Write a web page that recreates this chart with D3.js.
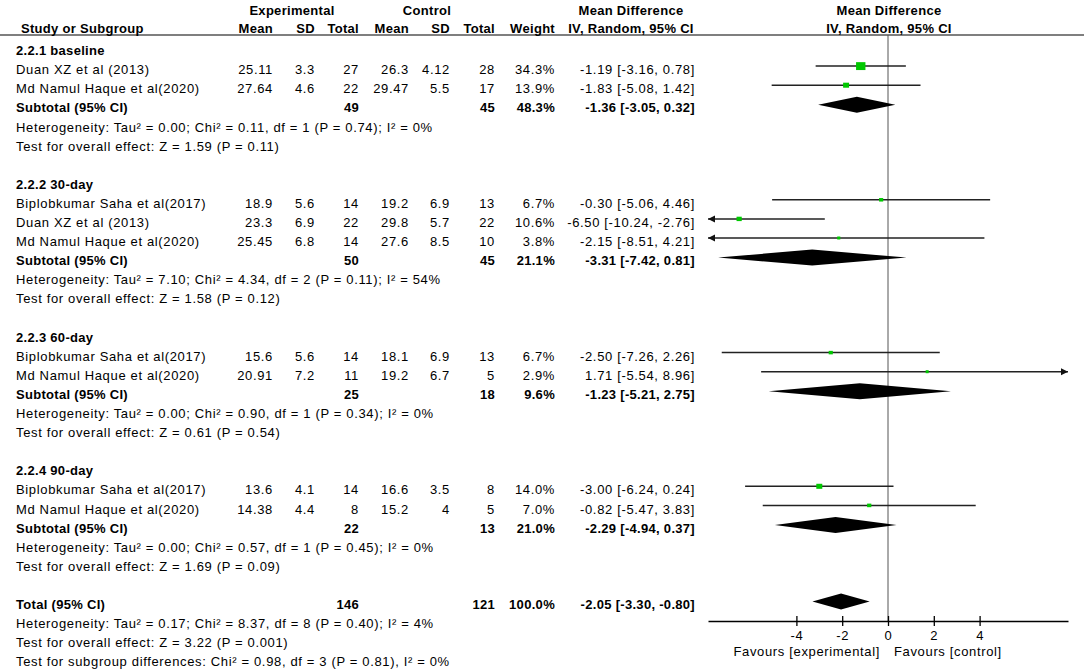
<!DOCTYPE html>
<html>
<head>
<meta charset="utf-8">
<script src="https://cdn.jsdelivr.net/npm/d3@7"></script>
<style>
    body { margin: 0; background: #fff; }
    text { font-family: "Liberation Sans", Arial, sans-serif; font-size: 13px; fill: #000; }
    .reg { letter-spacing: 0.65px; }
    .bold { font-weight: bold; letter-spacing: 0.3px; }
</style>
</head>
<body>
<div class="forest_plot"></div>
<script>

// subgroups
var groupNames = ["2.2.1 baseline", "2.2.2 30-day", "2.2.3 60-day", "2.2.4 90-day"];

// studies (one entry per study row)
var studyGroup = [0, 0, 1, 1, 1, 2, 2, 3, 3];
var studyNames = ["Duan XZ et al (2013)", "Md Namul Haque et al(2020)",
    "Biplobkumar Saha et al(2017)", "Duan XZ et al (2013)", "Md Namul Haque et al(2020)",
    "Biplobkumar Saha et al(2017)", "Md Namul Haque et al(2020)",
    "Biplobkumar Saha et al(2017)", "Md Namul Haque et al(2020)"];
var expMean = [25.11, 27.64, 18.9, 23.3, 25.45, 15.6, 20.91, 13.6, 14.38];
var expSD = [3.3, 4.6, 5.6, 6.9, 6.8, 5.6, 7.2, 4.1, 4.4];
var expTotal = [27, 22, 14, 22, 14, 14, 11, 14, 8];
var ctlMean = [26.3, 29.47, 19.2, 29.8, 27.6, 18.1, 19.2, 16.6, 15.2];
var ctlSD = [4.12, 5.5, 6.9, 5.7, 8.5, 6.9, 6.7, 3.5, 4];
var ctlTotal = [28, 17, 13, 22, 10, 13, 5, 8, 5];
var studyWeight = [34.3, 13.9, 6.7, 10.6, 3.8, 6.7, 2.9, 14.0, 7.0];
var studyMD = [-1.19, -1.83, -0.30, -6.50, -2.15, -2.50, 1.71, -3.00, -0.82];
var studyLo = [-3.16, -5.08, -5.06, -10.24, -8.51, -7.26, -5.54, -6.24, -5.47];
var studyHi = [0.78, 1.42, 4.46, -2.76, 4.21, 2.26, 8.96, 0.24, 3.83];

// subtotals
var subExpTotal = [49, 50, 25, 22];
var subCtlTotal = [45, 45, 18, 13];
var subWeight = [48.3, 21.1, 9.6, 21.0];
var subMD = [-1.36, -3.31, -1.23, -2.29];
var subLo = [-3.05, -7.42, -5.21, -4.94];
var subHi = [0.32, 0.81, 2.75, 0.37];
var subHet = [
    "Heterogeneity: Tau\u00b2 = 0.00; Chi\u00b2 = 0.11, df = 1 (P = 0.74); I\u00b2 = 0%",
    "Heterogeneity: Tau\u00b2 = 7.10; Chi\u00b2 = 4.34, df = 2 (P = 0.11); I\u00b2 = 54%",
    "Heterogeneity: Tau\u00b2 = 0.00; Chi\u00b2 = 0.90, df = 1 (P = 0.34); I\u00b2 = 0%",
    "Heterogeneity: Tau\u00b2 = 0.00; Chi\u00b2 = 0.57, df = 1 (P = 0.45); I\u00b2 = 0%"];
var subTest = [
    "Test for overall effect: Z = 1.59 (P = 0.11)",
    "Test for overall effect: Z = 1.58 (P = 0.12)",
    "Test for overall effect: Z = 0.61 (P = 0.54)",
    "Test for overall effect: Z = 1.69 (P = 0.09)"];

// overall
var totalRow = { exp: 146, ctl: 121, weight: 100.0, md: -2.05, lo: -3.30, hi: -0.80 };
var totalNotes = [
    "Heterogeneity: Tau\u00b2 = 0.17; Chi\u00b2 = 8.37, df = 8 (P = 0.40); I\u00b2 = 4%",
    "Test for overall effect: Z = 3.22 (P = 0.001)",
    "Test for subgroup differences: Chi\u00b2 = 0.98, df = 3 (P = 0.81), I\u00b2 = 0%"];

// axis
var tickValues = [-4, -2, 0, 2, 4];
var favourLeft = "Favours [experimental]";
var favourRight = "Favours [control]";


var div_width = 1084;
var div_height = 671;
var xLimit = 7.86;
var row0 = 50.5, rowStep = 19.1;
var axisY = 621;

// right edge of each text column
var col = { name: 16, expMean: 273, expSD: 315, expTotal: 359, ctlMean: 409, ctlSD: 450, ctlTotal: 495, weight: 555, ci: 695 };

var svg = d3.select(".forest_plot").append("svg")
    .attr("width", div_width)
    .attr("height", div_height);

var x = d3.scaleLinear().domain([-xLimit, xLimit]).range([708, 1068]);

function rowY(i) {
    return row0 + rowStep * i;
}

function addText(txt, xpos, i, anchor, cls) {
    svg.append("text")
        .attr("class", cls)
        .attr("x", xpos)
        .attr("y", rowY(i) + 4.6)
        .attr("text-anchor", anchor)
        .text(txt);
}

function ciText(md, lo, hi) {
    return md.toFixed(2) + " [" + lo.toFixed(2) + ", " + hi.toFixed(2) + "]";
}

// header
var h1 = 14.6, h2 = 33.2;
[["Experimental", 292], ["Control", 427], ["Mean Difference", 631], ["Mean Difference", 889]].forEach(function (h) {
    svg.append("text").attr("class", "bold").attr("x", h[1]).attr("y", h1)
        .attr("text-anchor", "middle").text(h[0]);
});
svg.append("text").attr("class", "bold").attr("x", 21).attr("y", h2).text("Study or Subgroup");
[["Mean", col.expMean], ["SD", col.expSD], ["Total", col.expTotal], ["Mean", col.ctlMean],
 ["SD", col.ctlSD], ["Total", col.ctlTotal], ["Weight", col.weight]].forEach(function (h) {
    svg.append("text").attr("class", "bold").attr("x", h[1]).attr("y", h2)
        .attr("text-anchor", "end").text(h[0]);
});
svg.append("text").attr("class", "bold").attr("x", 631).attr("y", h2)
    .attr("text-anchor", "middle").text("IV, Random, 95% CI");
svg.append("text").attr("class", "bold").attr("x", 889).attr("y", h2)
    .attr("text-anchor", "middle").text("IV, Random, 95% CI");

svg.append("line")
    .attr("x1", 0).attr("x2", div_width)
    .attr("y1", 35).attr("y2", 35)
    .attr("stroke", "#000").attr("stroke-width", 1.2);

// zero line
svg.append("line")
    .attr("x1", x(0)).attr("x2", x(0))
    .attr("y1", 35).attr("y2", axisY)
    .attr("stroke", "#555").attr("stroke-width", 1);

var plot = svg.append("g");

function drawStudy(s, i) {
    var cy = rowY(i) - 3.5;
    var lo = Math.max(studyLo[s], -xLimit);
    var hi = Math.min(studyHi[s], xLimit);
    plot.append("line")
        .attr("x1", x(lo)).attr("x2", x(hi))
        .attr("y1", cy).attr("y2", cy)
        .attr("stroke", "#222").attr("stroke-width", 1.5);
    if (studyLo[s] < -xLimit) {
        plot.append("path")
            .attr("d", "M" + x(-xLimit) + "," + cy + "l7,-3.5v7z")
            .attr("fill", "#111");
    }
    if (studyHi[s] > xLimit) {
        plot.append("path")
            .attr("d", "M" + x(xLimit) + "," + cy + "l-7,-3.5v7z")
            .attr("fill", "#111");
    }
    var w = Math.max(3, 1.6 * Math.sqrt(studyWeight[s]));
    var h = Math.max(3, 1.35 * Math.sqrt(studyWeight[s]));
    plot.append("rect")
        .attr("x", x(studyMD[s]) - w / 2)
        .attr("y", cy - h / 2)
        .attr("width", w)
        .attr("height", h)
        .attr("fill", "#00c800");
}

function drawDiamond(md, lo, hi, i) {
    var cy = rowY(i) - 3;
    plot.append("path")
        .attr("d", "M" + x(lo) + "," + cy + "L" + x(md) + "," + (cy - 8) +
            "L" + x(hi) + "," + cy + "L" + x(md) + "," + (cy + 8) + "Z")
        .attr("fill", "#000");
}

var r = 0;
for (var g = 0; g < groupNames.length; g++) {
    addText(groupNames[g], col.name, r, "start", "bold");
    r++;
    for (var s = 0; s < studyNames.length; s++) {
        if (studyGroup[s] != g) continue;
        addText(studyNames[s], col.name, r, "start", "reg");
        addText(String(expMean[s]), col.expMean, r, "end", "reg");
        addText(String(expSD[s]), col.expSD, r, "end", "reg");
        addText(String(expTotal[s]), col.expTotal, r, "end", "reg");
        addText(String(ctlMean[s]), col.ctlMean, r, "end", "reg");
        addText(String(ctlSD[s]), col.ctlSD, r, "end", "reg");
        addText(String(ctlTotal[s]), col.ctlTotal, r, "end", "reg");
        addText(studyWeight[s].toFixed(1) + "%", col.weight, r, "end", "reg");
        addText(ciText(studyMD[s], studyLo[s], studyHi[s]), col.ci, r, "end", "reg");
        drawStudy(s, r);
        r++;
    }
    addText("Subtotal (95% CI)", col.name, r, "start", "bold");
    addText(String(subExpTotal[g]), col.expTotal, r, "end", "bold");
    addText(String(subCtlTotal[g]), col.ctlTotal, r, "end", "bold");
    addText(subWeight[g].toFixed(1) + "%", col.weight, r, "end", "bold");
    addText(ciText(subMD[g], subLo[g], subHi[g]), col.ci, r, "end", "bold");
    drawDiamond(subMD[g], subLo[g], subHi[g], r);
    r++;
    addText(subHet[g], col.name, r, "start", "reg");
    r++;
    addText(subTest[g], col.name, r, "start", "reg");
    r += 2;
}

addText("Total (95% CI)", col.name, r, "start", "bold");
addText(String(totalRow.exp), col.expTotal, r, "end", "bold");
addText(String(totalRow.ctl), col.ctlTotal, r, "end", "bold");
addText(totalRow.weight.toFixed(1) + "%", col.weight, r, "end", "bold");
addText(ciText(totalRow.md, totalRow.lo, totalRow.hi), col.ci, r, "end", "bold");
drawDiamond(totalRow.md, totalRow.lo, totalRow.hi, r);
r++;
for (var n = 0; n < totalNotes.length; n++) {
    addText(totalNotes[n], col.name, r, "start", "reg");
    r++;
}

// axis
var axis = svg.append("g")
    .attr("transform", "translate(0," + axisY + ")")
    .call(d3.axisBottom(x).tickValues(tickValues).tickSizeOuter(0).tickFormat(d3.format("d")));
axis.select(".domain").attr("stroke", "#000").attr("stroke-width", 1.3);
axis.selectAll(".tick line").attr("y1", -5).attr("y2", 5).attr("stroke", "#000").attr("stroke-width", 1.3);
axis.selectAll(".tick text")
    .attr("y", 10)
    .attr("fill", "#000")
    .style("font-family", "\"Liberation Sans\", Arial, sans-serif")
    .style("font-size", "13px")
    .style("letter-spacing", "0.65px")
    .text(function (d) { return d < 0 ? "-" + Math.abs(d) : String(d); });
axis.attr("font-family", null).attr("font-size", null);

svg.append("text").attr("class", "reg").attr("x", 880).attr("y", 655.5)
    .attr("text-anchor", "end").text(favourLeft);
svg.append("text").attr("class", "reg").attr("x", 894).attr("y", 655.5)
    .attr("text-anchor", "start").text(favourRight);

</script>
</body>
</html>
